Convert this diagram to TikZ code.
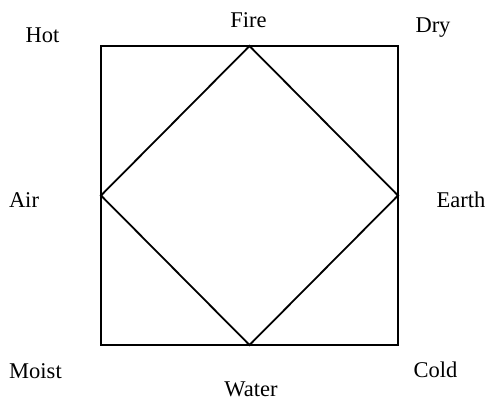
\documentclass[tikz,border=0pt]{standalone}
\usepackage{fontspec}
\setmainfont{Liberation Serif}
\begin{document}
\begin{tikzpicture}[x=1pt,y=-1pt,
  lbl/.style={anchor=base,inner sep=0pt,font=\fontsize{22.5}{25}\selectfont},
  edge/.style={line width=1.8pt,line join=miter}]
\useasboundingbox (0,0) rectangle (488,401);
\coordinate (tl) at (101,46);
\coordinate (tr) at (398,46);
\coordinate (br) at (398,345);
\coordinate (bl) at (101,345);
\coordinate (t) at (249.5,46);
\coordinate (r) at (398,195.5);
\coordinate (b) at (249.5,345);
\coordinate (l) at (101,195.5);
\draw[edge] (tl) -- (tr) -- (br) -- (bl) -- cycle;
\draw[edge] (t) -- (r) -- (b) -- (l) -- cycle;
\node[lbl] (hot) at (42.5,43) {Hot};
\node[lbl] (fire) at (248.5,28) {Fire};
\node[lbl] (dry) at (433,33) {Dry};
\node[lbl] (air) at (24,208) {Air};
\node[lbl] (earth) at (461,208) {Earth};
\node[lbl] (moist) at (35.5,378) {Moist};
\node[lbl] (water) at (251,396) {Water};
\node[lbl] (cold) at (435.5,377) {Cold};
\end{tikzpicture}
\end{document}
